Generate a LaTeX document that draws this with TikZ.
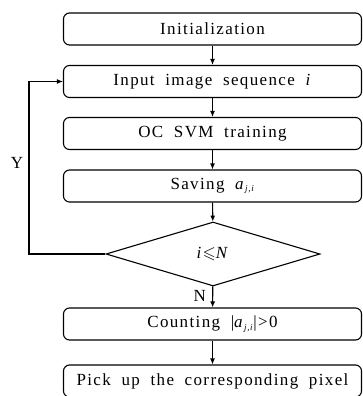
\documentclass[tikz,border=0pt]{standalone}
\usepackage{amssymb}
\usepackage{fontspec}
\setmainfont{Liberation Serif}[LetterSpace=8, WordSpace=1.9]
\usetikzlibrary{shapes.geometric,arrows.meta}
\tikzset{
  box/.style={draw, rounded corners=6pt, minimum width=298pt, minimum height=32pt, line width=1.1pt, inner sep=0pt},
  dec/.style={draw, diamond, aspect=3.35, minimum width=214pt, minimum height=64pt, line width=1.1pt, inner sep=0pt},
  conn/.style={line width=1.1pt, -{Latex[length=6pt,width=5pt]}}
}
\newcommand{\ssub}[1]{\raisebox{-2.5pt}{\fontsize{9}{10}\selectfont\textit{#1}}}
\begin{document}
\begin{tikzpicture}[x=1pt,y=-1pt, every node/.style={font=\fontsize{17}{19}\selectfont}]
\useasboundingbox (0,0) rectangle (363,396);
\node[box] (b1) at (212.5,29) {Initialization};
\node[box] (b2) at (212.5,81.5) {Input image sequence \textit{i}};
\node[box] (b3) at (212.5,133.5) {OC SVM training};
\node[box] (b4) at (212.5,186) {Saving \textit{a}\ssub{j,i}};
\node[dec] (d) at (213,254) {\textit{i}$\leqslant$\textit{N}};
\node[box] (b5) at (212.5,324) {Counting |\textit{a}\ssub{j,i}|>0};
\node[box] (b6) at (212.5,381) {Pick up the corresponding pixel};
\coordinate (c1) at (29,254);
\coordinate (c2) at (29,81.5);
\draw[conn] (b1) -- (b2);
\draw[conn] (b2) -- (b3);
\draw[conn] (b3) -- (b4);
\draw[conn] (b4) -- (d);
\draw[conn] (d) -- node[left, xshift=-3pt, yshift=1pt]{N} (b5);
\draw[conn] (b5) -- (b6);
\draw[conn] (d.west) -- (c1) -- (c2) -- (b2.west);
\node (Y) at (17,163) {Y};
\end{tikzpicture}
\end{document}
